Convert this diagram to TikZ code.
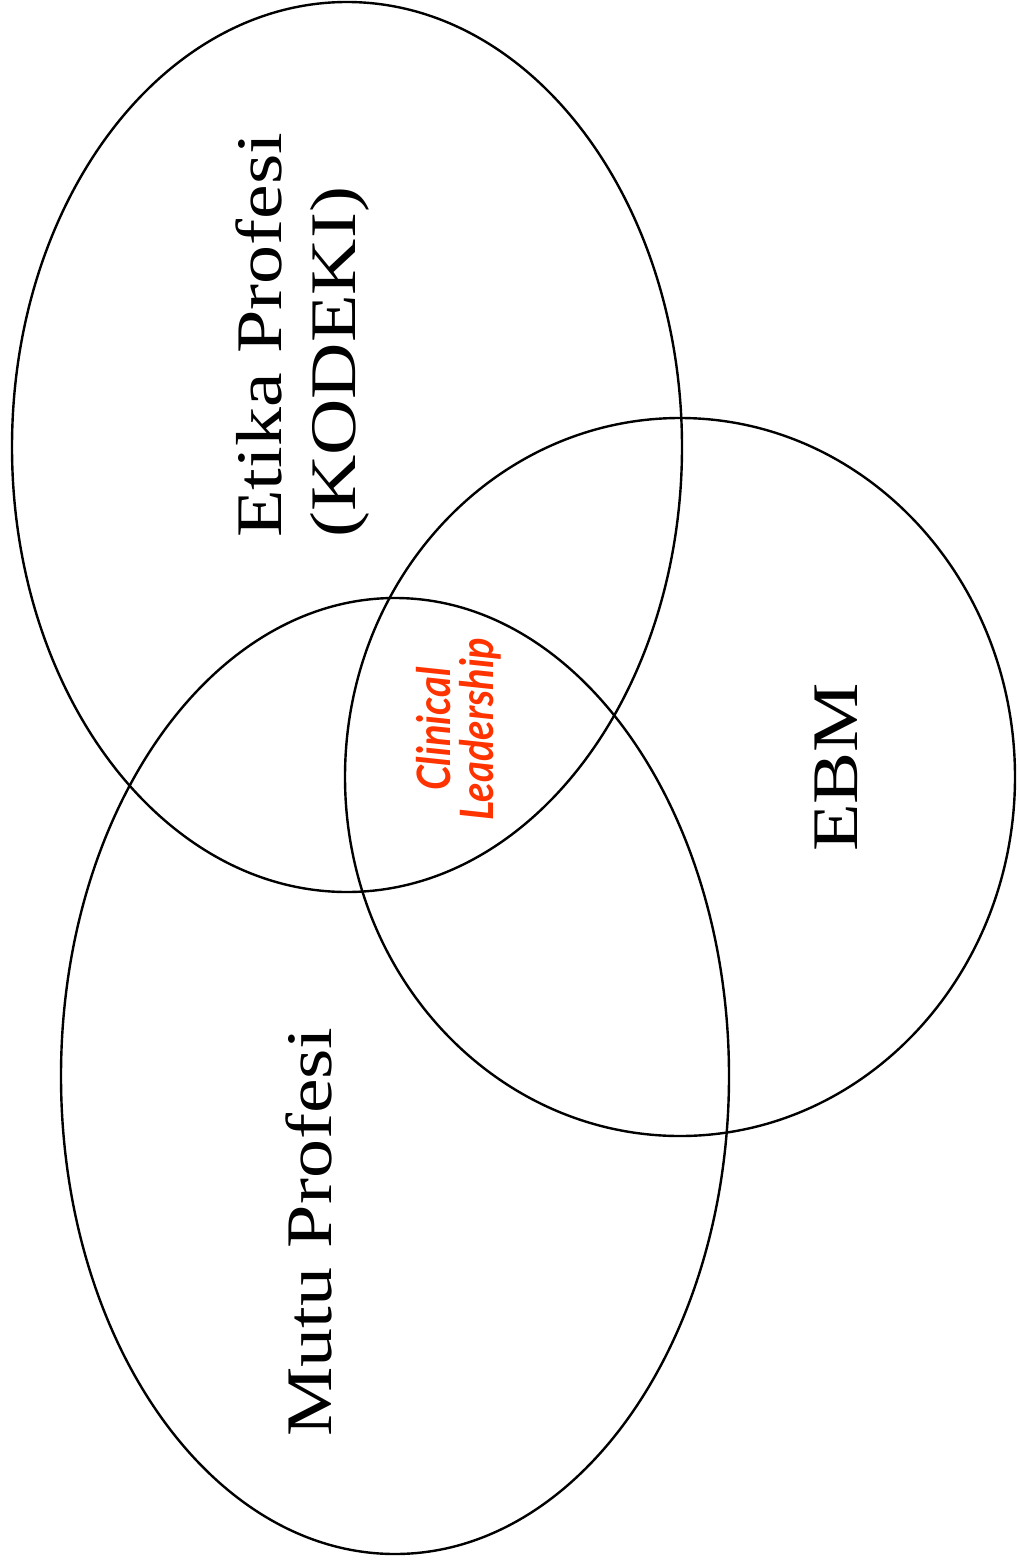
\documentclass[tikz,border=0pt]{standalone}
\usepackage{fontspec}
\setmainfont{Liberation Serif}
\newfontfamily\leadfont{Lato}
\definecolor{leadred}{HTML}{FF3300}
\newcommand{\widen}[1]{\scalebox{1.2}[1]{#1}}
\newcommand{\narrow}[1]{\scalebox{0.87}[1]{#1}}

\begin{document}
\begin{tikzpicture}[x=1pt,y=-1pt,
  ring/.style={draw=black,line width=2.4pt},
  settext/.style={inner sep=0pt,rotate=90,font=\fontsize{65}{74}\selectfont},
  leadtext/.style={inner sep=0pt,rotate=90,align=center,text=leadred,
    font=\leadfont\bfseries\itshape\fontsize{46}{43}\selectfont}]

\useasboundingbox (0,0) rectangle (1017,1566);

% ===== Three sets =====
\draw[ring] (347,447) ellipse [x radius=335pt, y radius=445pt];
\draw[ring] (680,777) ellipse [x radius=335pt, y radius=359pt];
\draw[ring] (395,1076) ellipse [x radius=334pt, y radius=478pt];

% ===== Set names =====
\node[settext,align=left,anchor=base west] (etika) at (355,538)
  {\widen{Etika Profesi}\\\widen{(KODEKI)}};
\node[settext,anchor=base west] (mutu) at (331,1437) {\widen{Mutu Profesi}};
\node[settext,anchor=base west] (ebm) at (857,852) {\widen{EBM}};

% Intersection of all three
\node[leadtext] (lead) at (459,729) {\narrow{Clinical}\\\narrow{Leadership}};

\end{tikzpicture}
\end{document}
